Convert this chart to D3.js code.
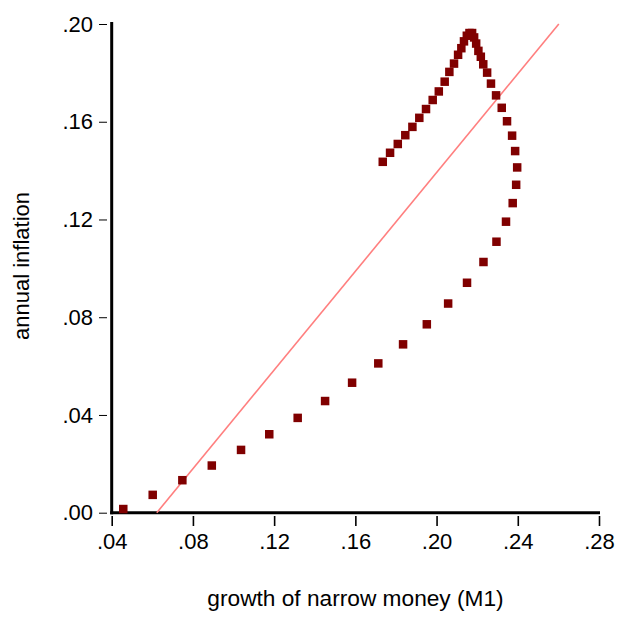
<!DOCTYPE html>
<meta charset="utf-8">
<style>
    body { margin: 0; background: #fff; }
    svg text { font-family: "Liberation Sans", Arial, sans-serif; fill: #000; }
    .axis path.domain { display: none; }
    .axis line { stroke: #000; }
</style>
<body>
<script src="https://cdn.jsdelivr.net/npm/d3@7/dist/d3.min.js"></script>
<script>

    var width = 618;
    var height = 617;

    // money growth (x) and inflation (y)
    var growthM1 = [
        .0457, .0602, .0748, .0893, .1037, .1176, .1316, .1451, .1584, .1713,
        .1835, .1952, .2057, .2150, .2231, .2295, .2342, .2375, .2392, .2397,
        .2387, .2372, .2347, .2321, .2293, .2268, .2249, .2230, .2218, .2206,
        .2195, .2185, .2175, .2162, .2149, .2135, .2122, .2106, .2086, .2063,
        .2040, .2011, .1981, .1948, .1915, .1881, .1846, .1809, .1771, .1735
    ];
    var inflation = [
        .0015, .0073, .0133, .0193, .0257, .0321, .0388, .0457, .0532, .0611,
        .0689, .0771, .0856, .0941, .1026, .1109, .1191, .1267, .1342, .1413,
        .1480, .1543, .1602, .1657, .1708, .1756, .1801, .1835, .1866, .1890,
        .1920, .1945, .1963, .1963, .1952, .1929, .1901, .1874, .1838, .1804,
        .1764, .1724, .1689, .1652, .1616, .1579, .1545, .1509, .1473, .1436
    ];

    // fitted line end points
    var fitX = [.0622, .2602];
    var fitY = [.00, .20];

    var xTicks = [.04, .08, .12, .16, .20, .24, .28];
    var yTicks = [.00, .04, .08, .12, .16, .20];

    var x = d3.scaleLinear().domain([.04, .28]).range([111.7, 599]);
    var y = d3.scaleLinear().domain([0, .20]).range([512.7, 24]);

    var fmt = function (d) {
        return d3.format(".2f")(d).replace(/^0/, "");
    };

    var svg = d3.select("body").append("svg")
        .attr("width", width)
        .attr("height", height);

    /////////////////////////////////
    // AXES
    /////////////////////////////////

    var yAxis = svg.append("g")
        .attr("class", "axis")
        .attr("transform", "translate(107,0)")
        .call(d3.axisLeft(y).tickValues(yTicks).tickFormat(fmt).tickSize(8).tickPadding(6));
    yAxis.selectAll("text").style("font-size", "22px");

    var xAxis = svg.append("g")
        .attr("class", "axis")
        .attr("transform", "translate(0,516)")
        .call(d3.axisBottom(x).tickValues(xTicks).tickFormat(fmt).tickSize(10).tickPadding(7));
    xAxis.selectAll("line").attr("stroke-width", 1.6);
    xAxis.selectAll("text").style("font-size", "22px");

    // thick frame lines
    svg.append("line")
        .attr("x1", x(.04)).attr("x2", x(.04))
        .attr("y1", y(.20) - 2).attr("y2", y(0) + 1.5)
        .attr("stroke", "#000").attr("stroke-width", 3);
    svg.append("line")
        .attr("x1", x(.04) - 1.5).attr("x2", x(.28) + 1)
        .attr("y1", y(0)).attr("y2", y(0))
        .attr("stroke", "#000").attr("stroke-width", 3);

    svg.append("text")
        .attr("x", 355.5)
        .attr("y", 606)
        .attr("text-anchor", "middle")
        .style("font-size", "22.7px")
        .text("growth of narrow money (M1)");

    svg.append("text")
        .attr("transform", "translate(29,266) rotate(-90)")
        .attr("text-anchor", "middle")
        .style("font-size", "22px")
        .text("annual inflation");

    /////////////////////////////////
    // FIT LINE
    /////////////////////////////////

    svg.append("line")
        .attr("x1", x(fitX[0])).attr("y1", y(fitY[0]))
        .attr("x2", x(fitX[1])).attr("y2", y(fitY[1]))
        .attr("stroke", "#ff7f7f")
        .attr("stroke-width", 1.6);

    /////////////////////////////////
    // POINTS
    /////////////////////////////////

    var SIZE = 8.5;

    svg.selectAll("rect.pt")
        .data(d3.range(growthM1.length))
        .enter()
        .append("rect")
        .attr("class", "pt")
        .attr("x", function (i) { return x(growthM1[i]) - SIZE / 2; })
        .attr("y", function (i) { return y(inflation[i]) - SIZE / 2; })
        .attr("width", SIZE)
        .attr("height", SIZE)
        .style("fill", "#800000");

</script>
</body>
</html>
